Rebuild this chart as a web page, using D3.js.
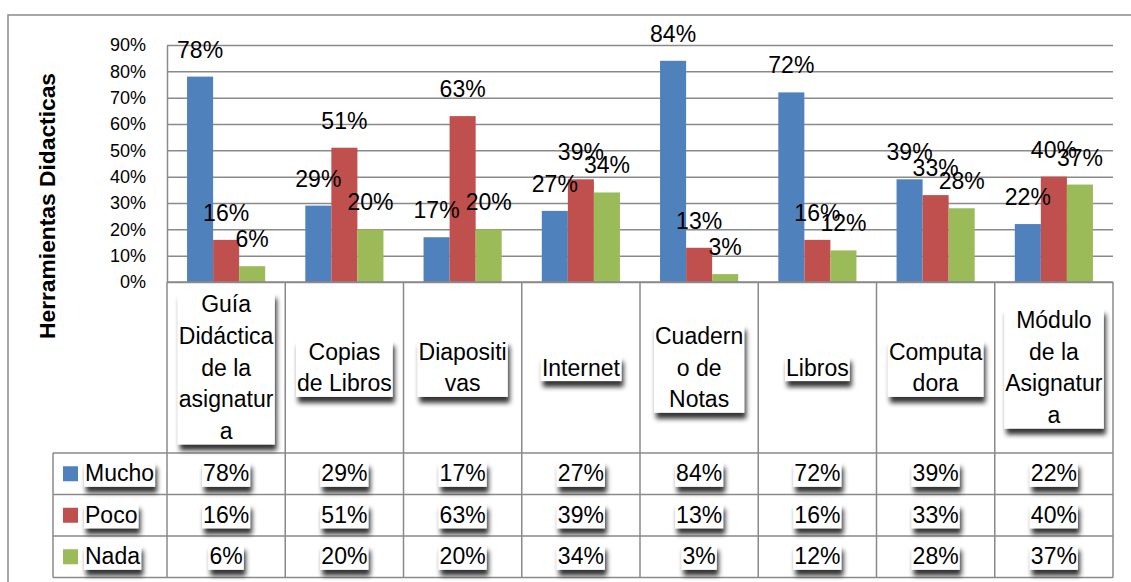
<!DOCTYPE html>
<html>
<head>
<meta charset="utf-8">
<script src="https://cdn.jsdelivr.net/npm/d3@7"></script>
<style>
  html, body { margin: 0; padding: 0; background: #fff; }
  svg { display: block; font-family: "Liberation Sans", Arial, sans-serif; }
</style>
</head>
<body>
<svg id="chart" width="1131" height="582"></svg>
<script>
// ---- data ----
const categories = ["Guía Didáctica de la asignatura", "Copias de Libros", "Diapositivas", "Internet",
                    "Cuaderno de Notas", "Libros", "Computadora", "Módulo de la Asignatura"];
const categoryLines = [["Guía", "Didáctica", "de la", "asignatur", "a"], ["Copias", "de Libros"],
                       ["Diapositi", "vas"], ["Internet"], ["Cuadern", "o de", "Notas"], ["Libros"],
                       ["Computa", "dora"], ["Módulo", "de la", "Asignatur", "a"]];
const seriesNames = ["Mucho", "Poco", "Nada"];
const mucho = [0.78, 0.29, 0.17, 0.27, 0.84, 0.72, 0.39, 0.22];
const poco  = [0.16, 0.51, 0.63, 0.39, 0.13, 0.16, 0.33, 0.40];
const nada  = [0.06, 0.20, 0.20, 0.34, 0.03, 0.12, 0.28, 0.37];
const yTicks = [0, 0.1, 0.2, 0.3, 0.4, 0.5, 0.6, 0.7, 0.8, 0.9];
const yTitle = "Herramientas Didacticas";
const seriesColors = ["#4F81BD", "#C0504D", "#9BBB59"];

const seriesValues = [mucho, poco, nada];
const fmt = d3.format(".0%");

// ---- layout ----
const svg = d3.select("#chart");
const plotL = 167, plotR = 1113, plotT = 45, plotB = 282;
const tableTop = 453, rowH = 41.5, legendL = 53;
const gridColor = "#8a8a8a";

const defs = svg.append("defs");
const f = defs.append("filter").attr("id", "shadow")
  .attr("x", "-20%").attr("y", "-30%").attr("width", "150%").attr("height", "200%");
f.append("feGaussianBlur").attr("in", "SourceAlpha").attr("stdDeviation", 2.6).attr("result", "b");
f.append("feOffset").attr("in", "b").attr("dx", 2).attr("dy", 6).attr("result", "o");
f.append("feComponentTransfer").attr("in", "o").attr("result", "oc")
  .append("feFuncA").attr("type", "linear").attr("slope", 0.8);
const fm = f.append("feMerge");
fm.append("feMergeNode").attr("in", "oc");
fm.append("feMergeNode").attr("in", "SourceGraphic");

// outer chart border
svg.append("path").attr("d", "M8,582 L8,15 L1131,15")
  .attr("fill", "none").attr("stroke", gridColor).attr("stroke-width", 1.5);

const x = d3.scaleBand().domain(categories).range([plotL, plotR]).paddingInner(0).paddingOuter(0);
const xs = d3.scaleBand().domain(seriesNames).range([0, x.bandwidth()]).paddingInner(0).paddingOuter(0.77);
const y = d3.scaleLinear().domain([0, 0.9]).range([plotB, plotT]);

// y axis with gridlines
const yAxis = svg.append("g").attr("transform", `translate(${plotL},0)`)
  .call(d3.axisLeft(y).tickValues(yTicks).tickFormat(fmt)
        .tickSize(-(plotR - plotL)).tickSizeOuter(0).tickPadding(21));
yAxis.select(".domain").attr("stroke", gridColor).attr("stroke-width", 1.5);
yAxis.selectAll(".tick line").attr("stroke", gridColor).attr("stroke-width", 1.5);
yAxis.selectAll(".tick text").attr("font-size", 18).attr("fill", "#000")
  .attr("font-family", "Liberation Sans, Arial, sans-serif");

// y title
svg.append("text").attr("transform", "translate(47,206) rotate(-90)")
  .attr("text-anchor", "middle").attr("dominant-baseline", "central")
  .attr("font-size", 22).attr("font-weight", "bold")
  .attr("textLength", 266).attr("lengthAdjust", "spacingAndGlyphs")
  .text(yTitle);

// bars
const barData = [];
categories.forEach((c, i) => {
  seriesNames.forEach((s, j) => barData.push({ c, s, j, v: seriesValues[j][i] }));
});
svg.append("g").selectAll("rect").data(barData).join("rect")
  .attr("x", d => x(d.c) + xs(d.s))
  .attr("y", d => y(d.v))
  .attr("width", xs.bandwidth())
  .attr("height", d => plotB - y(d.v))
  .attr("fill", d => seriesColors[d.j]);

// value labels
svg.append("g").selectAll("text").data(barData).join("text")
  .attr("x", d => x(d.c) + xs(d.s) + xs.bandwidth() / 2)
  .attr("y", d => y(d.v) - 19)
  .attr("text-anchor", "middle").attr("font-size", 23).attr("fill", "#000")
  .text(d => fmt(d.v));

// category / table grid lines
const grid = svg.append("g").attr("stroke", gridColor).attr("stroke-width", 1.5).attr("fill", "none");
const tableBottom = tableTop + rowH * 3;
grid.append("line").attr("x1", plotL).attr("x2", plotR).attr("y1", plotB).attr("y2", plotB);
const bounds = categories.map(c => x(c)).concat([plotR]);
bounds.forEach(bx => grid.append("line").attr("x1", bx).attr("x2", bx).attr("y1", plotB).attr("y2", tableBottom));
grid.append("line").attr("x1", legendL).attr("x2", legendL).attr("y1", tableTop).attr("y2", tableBottom);
[0, 1, 2, 3].forEach(r => grid.append("line").attr("x1", legendL).attr("x2", plotR)
  .attr("y1", tableTop + r * rowH).attr("y2", tableTop + r * rowH));

// helper: text with white shadowed box
function boxedText(parent, lines, cx, baseline0, lh, size, anchor) {
  const g = parent.append("g");
  const t = g.append("text").attr("font-size", size).attr("fill", "#000").attr("text-anchor", anchor || "middle");
  lines.forEach((ln, k) => t.append("tspan").attr("x", cx).attr("y", baseline0 + k * lh).text(ln));
  const bb = t.node().getBBox();
  g.insert("rect", "text")
    .attr("x", bb.x - 1).attr("y", baseline0 - size * 0.86)
    .attr("width", bb.width + 2)
    .attr("height", (lines.length - 1) * lh + size * 0.86 + size * 0.24)
    .attr("fill", "#fff").attr("filter", "url(#shadow)");
  return g;
}

// category labels
const catG = svg.append("g");
const lh = 31.7, catMid = 375.5;
categories.forEach((c, i) => {
  const lines = categoryLines[i];
  const b0 = catMid - (lines.length - 1) * lh / 2;
  boxedText(catG, lines, x(c) + x.bandwidth() / 2, b0, lh, 23);
});

// data table
const tabG = svg.append("g");
seriesNames.forEach((s, j) => {
  const rc = tableTop + rowH * j + rowH / 2;
  tabG.append("rect").attr("x", 63).attr("y", rc - 7.5).attr("width", 15).attr("height", 15)
    .attr("fill", seriesColors[j]);
  boxedText(tabG, [s], 85, rc + 7.5, lh, 23, "start");
  categories.forEach((c, i) => {
    boxedText(tabG, [fmt(seriesValues[j][i])], x(c) + x.bandwidth() / 2, rc + 7.5, lh, 23);
  });
});
</script>
</body>
</html>
